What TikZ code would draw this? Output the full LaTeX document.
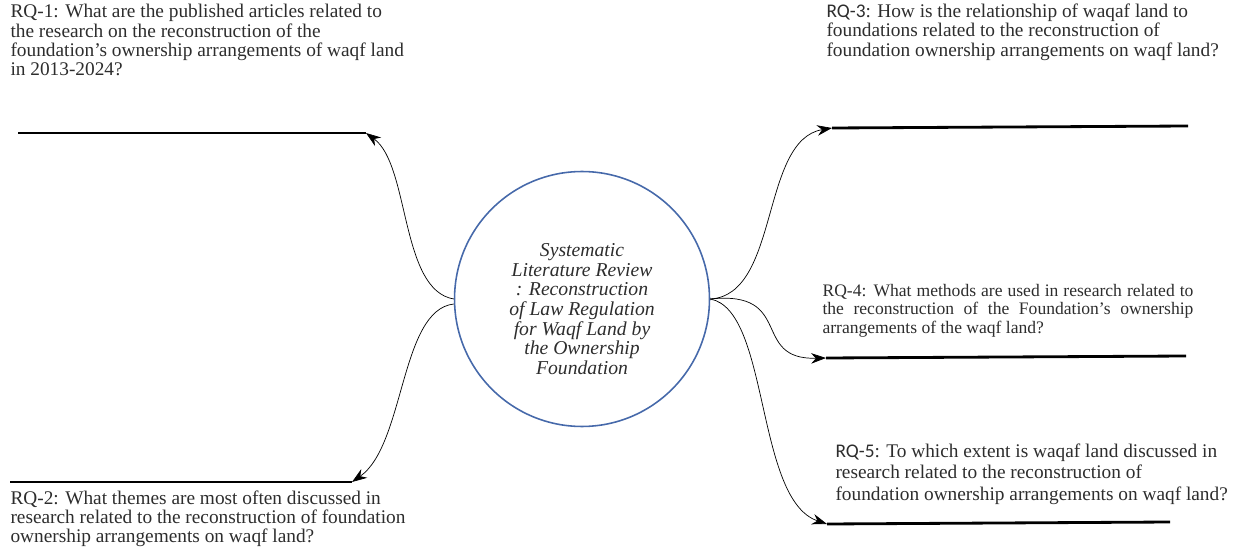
\documentclass[tikz,border=0pt]{standalone}
\usepackage{fontspec}
\setmainfont{Liberation Serif}
\newfontfamily\rqsans{Carlito}
\usepackage{tikz}
\usetikzlibrary{arrows.meta}
\definecolor{ring_blue}{RGB}{70,105,170}
\definecolor{text_gray}{RGB}{45,45,45}

\begin{document}
\begin{tikzpicture}[x=0.02cm,y=-0.02cm,semithick,>={Stealth[length=8.5pt,width=6pt]}]
    \tikzstyle{question}=[anchor=north west,inner sep=0pt,align=left,text=text_gray,font=\fontsize{11}{10.9}\selectfont]
    \tikzstyle{review}=[draw=ring_blue,line width=0.9pt,circle,minimum size=5.1cm,inner sep=0pt]
    \tikzstyle{reviewtext}=[inner sep=0pt,align=center,text=text_gray,font=\fontsize{11.2}{11.2}\selectfont\itshape]
    \tikzstyle{shelf}=[line width=1.6pt,black]
    \tikzstyle{link}=[->,thin,black]
    \useasboundingbox (0,0) rectangle (1237,560);

    % central topic
    \node[review] (srl) at (582,299) {};
    \node[reviewtext] (srltext) at (582,309) {Systematic\\Literature Review\\: Reconstruction\\of Law Regulation\\for Waqf Land by\\the Ownership\\Foundation};

    % research questions
    \node[question] (rq1) at (10,4) {RQ-1: What are the published articles related to\\the research on the reconstruction of the\\foundation's ownership arrangements of waqf land\\in 2013-2024?};
    \node[question] (rq2) at (10,490) {RQ-2: What themes are most often discussed in\\research related to the reconstruction of foundation\\ownership arrangements on waqf land?};
    \node[question,font=\fontsize{11}{11.3}\selectfont] (rq3) at (826,3) {{\rqsans RQ-3}: How is the relationship of waqaf land to\\foundations related to the reconstruction of\\foundation ownership arrangements on waqf land?};
    \node[question,font=\fontsize{10}{10.4}\selectfont] (rq4) at (822,284) {\makebox[7.42cm][s]{RQ-4: What methods are used in research related to}\\\makebox[7.42cm][s]{the reconstruction of the Foundation's ownership}\\arrangements of the waqf land?};
    \node[question,font=\fontsize{11}{12.2}\selectfont] (rq5) at (835,443) {{\rqsans RQ-5}: To which extent is waqaf land discussed in\\research related to the reconstruction of\\foundation ownership arrangements on waqf land?};

    % shelf lines
    \coordinate (s1a) at (18,133);   \coordinate (s1b) at (366,133);
    \coordinate (s2a) at (10,482);   \coordinate (s2b) at (352,482);
    \coordinate (s3a) at (832,128);  \coordinate (s3b) at (1188,126);
    \coordinate (s4a) at (826,358);  \coordinate (s4b) at (1186,356);
    \coordinate (s5a) at (827,524);  \coordinate (s5b) at (1170,522);
    \draw[shelf] (s1a) -- (s1b);
    \draw[shelf] (s2a) -- (s2b);
    \draw[shelf] (s3a) -- (s3b);
    \draw[shelf] (s4a) -- (s4b);
    \draw[shelf] (s5a) -- (s5b);

    % links from the circle
    \draw[link] (srl.west) .. controls (400,290) and (410,165) .. (s1b);
    \draw[link] ([yshift=-0.1cm]srl.west) .. controls (400,310) and (405,445) .. (s2b);
    \draw[link] (srl.east) .. controls (780,295) and (760,140) .. (s3a);
    \draw[link] (srl.east) .. controls (795,290) and (750,360) .. (s4a);
    \draw[link] (srl.east) .. controls (770,310) and (755,500) .. (s5a);
\end{tikzpicture}
\end{document}
